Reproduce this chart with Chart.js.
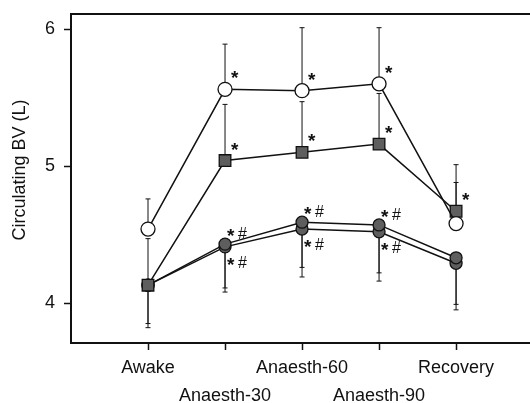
<!DOCTYPE html>
<html>
<head>
<meta charset="utf-8">
<style>
  html, body { margin: 0; padding: 0; background: #fff; overflow: hidden; }
</style>
<script src="https://cdn.jsdelivr.net/npm/chart.js@4.4.1/dist/chart.umd.min.js"></script>
</head>
<body>
<canvas id="bv" width="530" height="403"></canvas>
<script>
const timepoints = ['Awake', 'Anaesth-30', 'Anaesth-60', 'Anaesth-90', 'Recovery'];
const yTicks = [4, 5, 6];

// circulating blood volume (L): mean and SD per group
const openMean = [4.54, 5.56, 5.55, 5.60, 4.58];
const openSD = [0.22, 0.33, 0.46, 0.41, 0.30];
const squareMean = [4.13, 5.04, 5.10, 5.16, 4.67];
const squareSD = [0.34, 0.41, 0.37, 0.37, 0.34];
const darkUpperMean = [4.13, 4.43, 4.59, 4.57, 4.33];
const darkUpperSD = [0.28, 0.32, 0.33, 0.35, 0.34];
const darkLowerMean = [4.13, 4.41, 4.54, 4.52, 4.29];
const darkLowerSD = [0.31, 0.33, 0.35, 0.36, 0.34];

// significance marks
const openSig = ['', '*', '*', '*', ''];
const squareSig = ['', '*', '*', '*', '*'];
const darkUpperSig = ['', '* #', '* #', '* #', ''];
const darkLowerSig = ['', '* #', '* #', '* #', ''];

const FONT = "'Liberation Sans', Arial, Helvetica, sans-serif";
const INK = '#111';
const GREY = '#5e5e5e';

const pts = arr => arr.map((v, i) => ({x: i, y: v}));

// SD whiskers (one-sided) drawn under the markers
const errorBars = {
  id: 'errorBars',
  beforeDatasetsDraw(chart) {
    const {ctx, scales: {x, y}} = chart;
    ctx.save();
    ctx.strokeStyle = INK;
    ctx.lineWidth = 1;
    chart.data.datasets.forEach(ds => {
      ds.data.forEach((p, i) => {
        const sd = ds.sd[i];
        if (sd == null) return;
        const px = x.getPixelForValue(p.x);
        const y0 = y.getPixelForValue(p.y);
        const y1 = y.getPixelForValue(p.y + ds.dir * sd);
        ctx.beginPath();
        ctx.moveTo(px, y0);
        ctx.lineTo(px, y1);
        ctx.moveTo(px - 2.5, y1);
        ctx.lineTo(px + 2.5, y1);
        ctx.stroke();
      });
    });
    ctx.restore();
  }
};

// asterisks / hashes next to the points; star is set larger than the hash
const sigMarks = {
  id: 'sigMarks',
  afterDatasetsDraw(chart) {
    const {ctx, scales: {x, y}} = chart;
    ctx.save();
    ctx.fillStyle = INK;
    ctx.textAlign = 'left';
    ctx.textBaseline = 'alphabetic';
    chart.data.datasets.forEach(ds => {
      ds.data.forEach((p, i) => {
        const s = ds.sig[i];
        if (!s) return;
        const px = x.getPixelForValue(p.x) + ds.sigDx;
        const cy = y.getPixelForValue(p.y) + ds.sigDy;
        s.split(' ').forEach((tok, k) => {
          if (tok === '*') {
            ctx.font = 'bold 19px ' + FONT;
            ctx.fillText('*', px + k * 11, cy + 0.58 * 19);
          } else {
            ctx.font = '16px ' + FONT;
            ctx.fillText(tok, px + k * 11, cy + 2.5 + 0.35 * 16);
          }
        });
      });
    });
    ctx.restore();
  }
};

// frame top edge and the rotated y title
const frame = {
  id: 'frame',
  afterDraw(chart) {
    const {ctx, chartArea: a} = chart;
    ctx.save();
    ctx.strokeStyle = INK;
    ctx.lineWidth = 2;
    ctx.beginPath();
    ctx.moveTo(a.left, a.top);
    ctx.lineTo(chart.width, a.top);
    ctx.stroke();

    ctx.translate(20, 170);
    ctx.rotate(-Math.PI / 2);
    ctx.fillStyle = INK;
    ctx.font = '18px ' + FONT;
    ctx.textAlign = 'center';
    ctx.textBaseline = 'middle';
    ctx.fillText('Circulating BV (L)', 0, 0);
    ctx.restore();
  }
};

const noPad = s => {
  s.paddingLeft = 0; s.paddingRight = 0; s.paddingTop = 0; s.paddingBottom = 0;
};

const lineBase = {
  borderColor: INK,
  borderWidth: 1.5,
  tension: 0,
  pointBorderColor: INK,
  pointBorderWidth: 1.3,
  clip: false
};

new Chart(document.getElementById('bv'), {
  type: 'line',
  data: {
    datasets: [
      Object.assign({}, lineBase, {
        label: 'open', data: pts(openMean), sd: openSD, dir: 1,
        sig: openSig, sigDx: 6, sigDy: -16,
        pointStyle: 'circle', pointRadius: 7, pointBackgroundColor: '#fff'
      }),
      Object.assign({}, lineBase, {
        label: 'square', data: pts(squareMean), sd: squareSD, dir: 1,
        sig: squareSig, sigDx: 6, sigDy: -16,
        pointStyle: 'rect', pointRadius: 8.2, pointBackgroundColor: GREY
      }),
      Object.assign({}, lineBase, {
        label: 'darkUpper', data: pts(darkUpperMean), sd: darkUpperSD, dir: -1,
        sig: darkUpperSig, sigDx: 2, sigDy: -13,
        pointStyle: 'circle', pointRadius: 6, pointBackgroundColor: GREY
      }),
      Object.assign({}, lineBase, {
        label: 'darkLower', data: pts(darkLowerMean), sd: darkLowerSD, dir: -1,
        sig: darkLowerSig, sigDx: 2, sigDy: 13,
        pointStyle: 'circle', pointRadius: 6, pointBackgroundColor: GREY
      })
    ]
  },
  options: {
    responsive: false,
    animation: false,
    devicePixelRatio: 1,
    layout: {autoPadding: false, padding: {top: 14, right: 0, bottom: 0, left: 0}},
    plugins: {legend: {display: false}, tooltip: {enabled: false}},
    scales: {
      x: {
        type: 'linear',
        min: -1,
        max: 4.96,
        afterBuildTicks: s => { s.ticks = timepoints.map((_, i) => ({value: i})); },
        afterFit: s => { s.height = 60; noPad(s); },
        grid: {drawOnChartArea: false, drawTicks: true, tickLength: 7, tickColor: INK, tickWidth: 1.5},
        border: {color: INK, width: 2},
        ticks: {
          autoSkip: false,
          maxRotation: 0,
          padding: 4,
          color: INK,
          font: {family: FONT, size: 18, lineHeight: 1.556},
          callback: (v, i) => (i % 2 ? ['', timepoints[i]] : timepoints[i])
        }
      },
      y: {
        min: 3.708,
        max: 6.11,
        afterBuildTicks: s => { s.ticks = yTicks.map(v => ({value: v})); },
        afterFit: s => { s.width = 71; noPad(s); },
        grid: {drawOnChartArea: false, drawTicks: true, tickLength: 7, tickColor: INK, tickWidth: 1.5},
        border: {color: INK, width: 2},
        ticks: {padding: 9, color: INK, font: {family: FONT, size: 18}}
      }
    }
  },
  plugins: [errorBars, sigMarks, frame]
});
</script>
</body>
</html>
